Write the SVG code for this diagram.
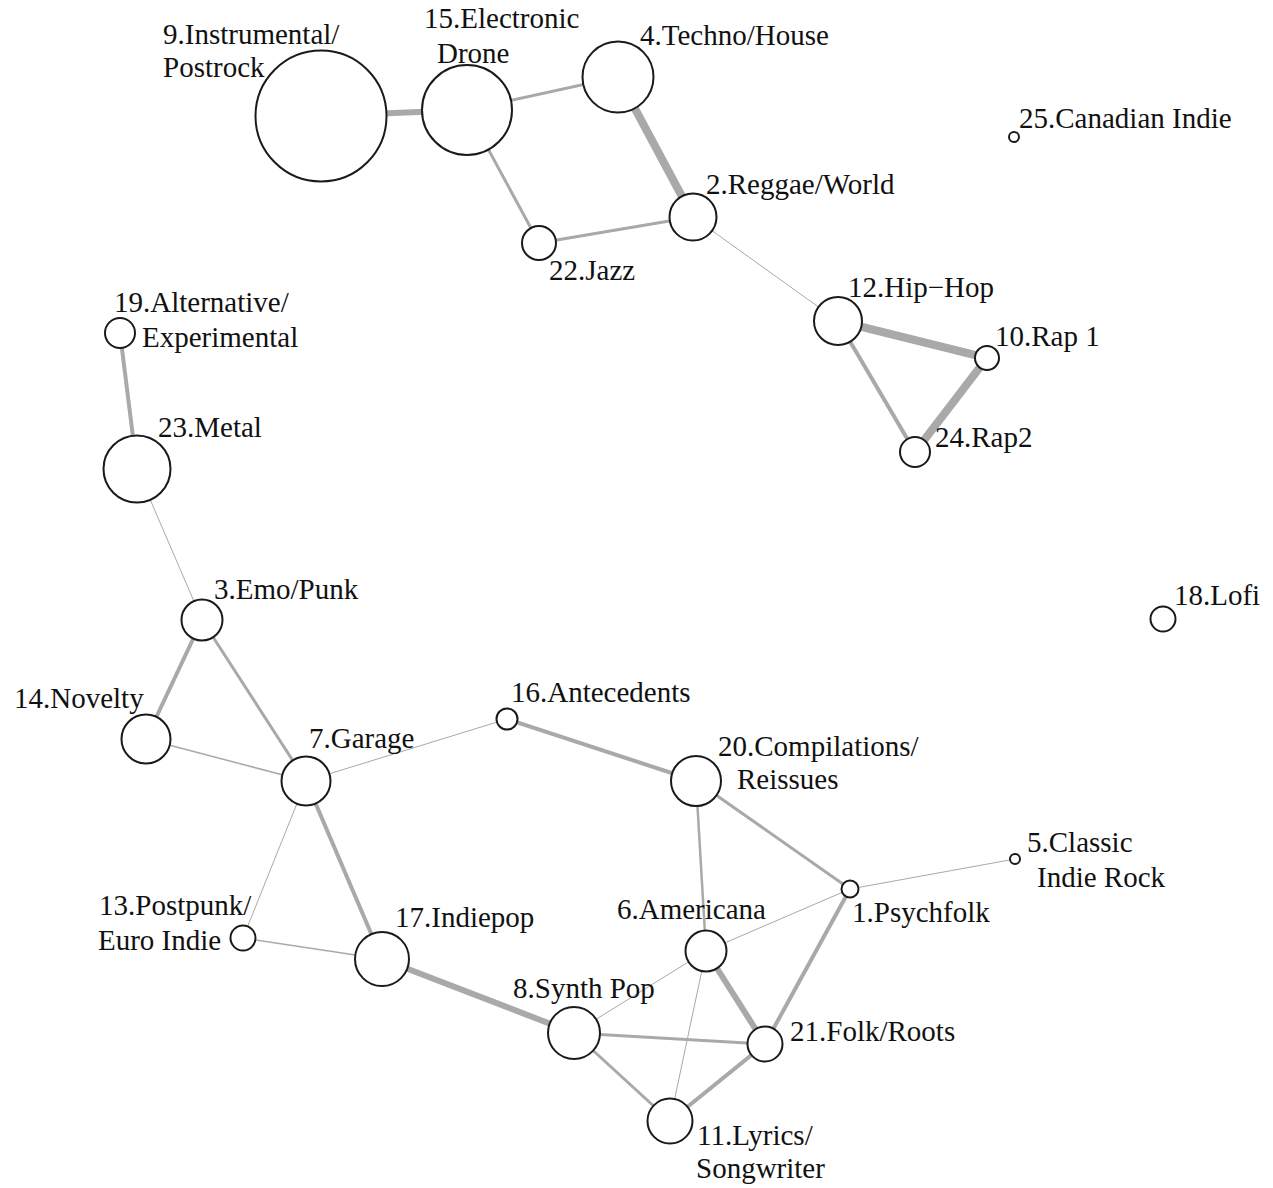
<svg xmlns="http://www.w3.org/2000/svg" width="1273" height="1188" viewBox="0 0 1273 1188">
<style>
.e{stroke:#a9a9a9;fill:none}
.n circle{fill:#fff;stroke:#1a1a1a;stroke-width:2}
text{font-family:"Liberation Serif","Times New Roman",serif;font-size:29px;fill:#111}
</style>
<rect width="1273" height="1188" fill="#fff"/>
<g id="edges">
<line class="e" x1="321" y1="116" x2="467" y2="110" stroke-width="6"/>
<line class="e" x1="467" y1="110" x2="618" y2="77" stroke-width="3"/>
<line class="e" x1="467" y1="110" x2="539" y2="243" stroke-width="3"/>
<line class="e" x1="618" y1="77" x2="693" y2="217" stroke-width="8"/>
<line class="e" x1="539" y1="243" x2="693" y2="217" stroke-width="3"/>
<line class="e" x1="693" y1="217" x2="838" y2="321" stroke-width="1"/>
<line class="e" x1="838" y1="321" x2="987" y2="358" stroke-width="8"/>
<line class="e" x1="987" y1="358" x2="915" y2="452" stroke-width="8"/>
<line class="e" x1="838" y1="321" x2="915" y2="452" stroke-width="4"/>
<line class="e" x1="120" y1="333" x2="137" y2="469" stroke-width="4"/>
<line class="e" x1="137" y1="469" x2="202" y2="620" stroke-width="1"/>
<line class="e" x1="202" y1="620" x2="146" y2="739" stroke-width="4"/>
<line class="e" x1="202" y1="620" x2="306" y2="781" stroke-width="3"/>
<line class="e" x1="146" y1="739" x2="306" y2="781" stroke-width="1.5"/>
<line class="e" x1="306" y1="781" x2="507" y2="719" stroke-width="1"/>
<line class="e" x1="507" y1="719" x2="696" y2="781" stroke-width="4"/>
<line class="e" x1="306" y1="781" x2="243" y2="938" stroke-width="1"/>
<line class="e" x1="306" y1="781" x2="382" y2="959" stroke-width="4"/>
<line class="e" x1="243" y1="938" x2="382" y2="959" stroke-width="1.5"/>
<line class="e" x1="382" y1="959" x2="574" y2="1033" stroke-width="6"/>
<line class="e" x1="696" y1="781" x2="706" y2="951" stroke-width="2.5"/>
<line class="e" x1="696" y1="781" x2="850" y2="889" stroke-width="3"/>
<line class="e" x1="850" y1="889" x2="1015" y2="859" stroke-width="1"/>
<line class="e" x1="850" y1="889" x2="706" y2="951" stroke-width="1"/>
<line class="e" x1="850" y1="889" x2="765" y2="1044" stroke-width="4"/>
<line class="e" x1="706" y1="951" x2="765" y2="1044" stroke-width="6"/>
<line class="e" x1="706" y1="951" x2="574" y2="1033" stroke-width="1"/>
<line class="e" x1="706" y1="951" x2="670" y2="1121" stroke-width="1"/>
<line class="e" x1="574" y1="1033" x2="765" y2="1044" stroke-width="3"/>
<line class="e" x1="574" y1="1033" x2="670" y2="1121" stroke-width="3"/>
<line class="e" x1="670" y1="1121" x2="765" y2="1044" stroke-width="4"/>
</g>
<g id="n9" class="n"><circle cx="321" cy="116" r="65.5"/><text x="163" y="44">9.Instrumental/</text><text x="163" y="77">Postrock</text></g>
<g id="n15" class="n"><circle cx="467" cy="110" r="45"/><text x="424" y="28">15.Electronic</text><text x="437" y="63">Drone</text></g>
<g id="n4" class="n"><circle cx="618" cy="77" r="35.5"/><text x="640" y="45">4.Techno/House</text></g>
<g id="n2" class="n"><circle cx="693" cy="217" r="23.5"/><text x="706" y="194">2.Reggae/World</text></g>
<g id="n22" class="n"><circle cx="539" cy="243" r="17"/><text x="549" y="280">22.Jazz</text></g>
<g id="n25" class="n"><circle cx="1014" cy="137" r="5"/><text x="1019" y="128">25.Canadian Indie</text></g>
<g id="n12" class="n"><circle cx="838" cy="321" r="24"/><text x="848" y="297">12.Hip−Hop</text></g>
<g id="n10" class="n"><circle cx="987" cy="358" r="12"/><text x="995" y="346">10.Rap 1</text></g>
<g id="n24" class="n"><circle cx="915" cy="452" r="15"/><text x="935" y="447">24.Rap2</text></g>
<g id="n19" class="n"><circle cx="120" cy="333" r="15"/><text x="114" y="312">19.Alternative/</text><text x="142" y="347">Experimental</text></g>
<g id="n23" class="n"><circle cx="137" cy="469" r="33.5"/><text x="158" y="437">23.Metal</text></g>
<g id="n3" class="n"><circle cx="202" cy="620" r="20.5"/><text x="214" y="599">3.Emo/Punk</text></g>
<g id="n14" class="n"><circle cx="146" cy="739" r="24.5"/><text x="14" y="708">14.Novelty</text></g>
<g id="n7" class="n"><circle cx="306" cy="781" r="24.5"/><text x="309" y="748">7.Garage</text></g>
<g id="n16" class="n"><circle cx="507" cy="719" r="10.5"/><text x="511" y="702">16.Antecedents</text></g>
<g id="n20" class="n"><circle cx="696" cy="781" r="25"/><text x="718" y="756">20.Compilations/</text><text x="737" y="789">Reissues</text></g>
<g id="n1" class="n"><circle cx="850" cy="889" r="8.5"/><text x="852" y="922">1.Psychfolk</text></g>
<g id="n5" class="n"><circle cx="1015" cy="859" r="5"/><text x="1027" y="852">5.Classic</text><text x="1037" y="887">Indie Rock</text></g>
<g id="n18" class="n"><circle cx="1163" cy="619" r="12.5"/><text x="1174" y="605">18.Lofi</text></g>
<g id="n13" class="n"><circle cx="243" cy="938" r="12.5"/><text x="99" y="915">13.Postpunk/</text><text x="98" y="950">Euro Indie</text></g>
<g id="n17" class="n"><circle cx="382" cy="959" r="27"/><text x="395" y="927">17.Indiepop</text></g>
<g id="n6" class="n"><circle cx="706" cy="951" r="20.5"/><text x="617" y="919">6.Americana</text></g>
<g id="n8" class="n"><circle cx="574" cy="1033" r="26"/><text x="513" y="998">8.Synth Pop</text></g>
<g id="n21" class="n"><circle cx="765" cy="1044" r="17.5"/><text x="790" y="1041">21.Folk/Roots</text></g>
<g id="n11" class="n"><circle cx="670" cy="1121" r="22.5"/><text x="697" y="1145">11.Lyrics/</text><text x="696" y="1178">Songwriter</text></g>
</svg>
